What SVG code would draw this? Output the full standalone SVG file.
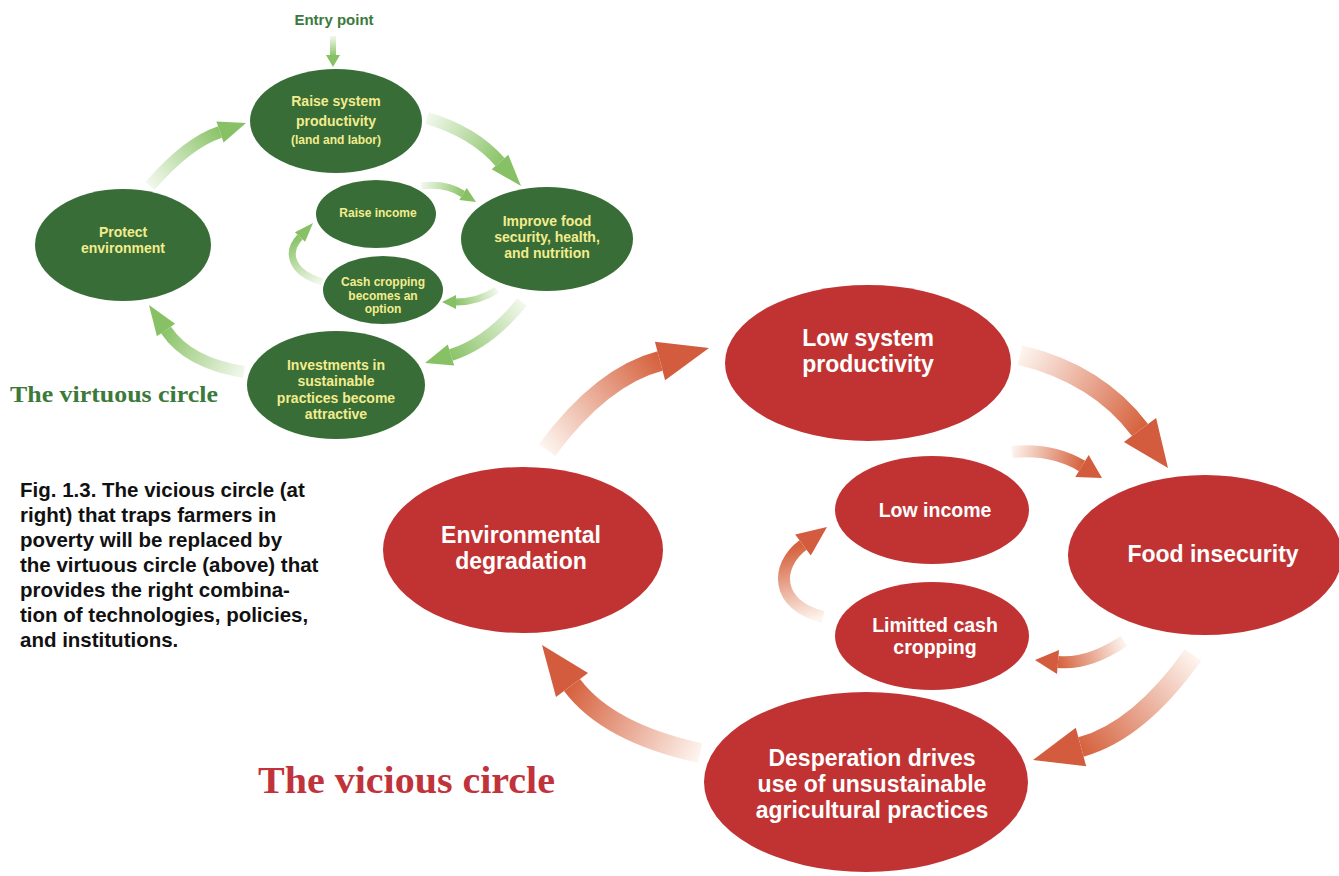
<svg xmlns="http://www.w3.org/2000/svg" xmlns:xlink="http://www.w3.org/1999/xlink" width="1339" height="876" viewBox="0 0 1339 876">
  <defs>
    <style>
      .gnode { fill: #386d38; }
      .rnode { fill: #c13333; }
      .gtxt { font-family: "Liberation Sans", Arial, sans-serif; font-weight: 700; font-size: 14px; fill: #f3ec8d; text-anchor: middle; }
      .gsmall { font-size: 12px; }
      .rtxt { font-family: "Liberation Sans", Arial, sans-serif; font-weight: 700; font-size: 23px; fill: #ffffff; text-anchor: middle; }
      .rsmall { font-size: 19.5px; }
      .caption { font-family: "Liberation Sans", Arial, sans-serif; font-weight: 700; font-size: 20.5px; fill: #111111; }
      .title { font-family: "Liberation Serif", "DejaVu Serif", serif; font-weight: 700; }
      .rband { fill: none; stroke-linecap: butt; }
      .rhead { fill: #d35c3e; }
      .ghead { fill: #88c165; }
    </style>
    <!-- base colour ramps: faded tail to saturated head -->
    <linearGradient id="redFade">
      <stop offset="0" stop-color="#fdf4ee"/>
      <stop offset="1" stop-color="#d6633f"/>
    </linearGradient>
    <linearGradient id="greenFade">
      <stop offset="0" stop-color="#f2f8ec"/>
      <stop offset="1" stop-color="#8cc46a"/>
    </linearGradient>
    <!-- per-connector gradient directions -->
    <linearGradient id="gr1" xlink:href="#redFade" gradientUnits="userSpaceOnUse" x1="547" y1="450" x2="660" y2="361"/>
    <linearGradient id="gr2" xlink:href="#redFade" gradientUnits="userSpaceOnUse" x1="1020" y1="355" x2="1140" y2="430"/>
    <linearGradient id="gr3" xlink:href="#redFade" gradientUnits="userSpaceOnUse" x1="1012" y1="452" x2="1082" y2="466"/>
    <linearGradient id="gr4" xlink:href="#redFade" gradientUnits="userSpaceOnUse" x1="1124" y1="641" x2="1058" y2="662"/>
    <linearGradient id="gr5" xlink:href="#redFade" gradientUnits="userSpaceOnUse" x1="1193" y1="655" x2="1081" y2="747"/>
    <linearGradient id="gr6" xlink:href="#redFade" gradientUnits="userSpaceOnUse" x1="700" y1="753" x2="572" y2="685"/>
    <linearGradient id="gr7" xlink:href="#redFade" gradientUnits="userSpaceOnUse" x1="823" y1="617" x2="803" y2="545"/>
    <linearGradient id="gg1" xlink:href="#greenFade" gradientUnits="userSpaceOnUse" x1="333" y1="36" x2="333" y2="56"/>
    <linearGradient id="gg2" xlink:href="#greenFade" gradientUnits="userSpaceOnUse" x1="150" y1="186" x2="220" y2="132"/>
    <linearGradient id="gg3" xlink:href="#greenFade" gradientUnits="userSpaceOnUse" x1="427" y1="118" x2="500" y2="162"/>
    <linearGradient id="gg4" xlink:href="#greenFade" gradientUnits="userSpaceOnUse" x1="421" y1="186" x2="463" y2="194"/>
    <linearGradient id="gg5" xlink:href="#greenFade" gradientUnits="userSpaceOnUse" x1="497" y1="290" x2="456" y2="302"/>
    <linearGradient id="gg6" xlink:href="#greenFade" gradientUnits="userSpaceOnUse" x1="522" y1="302" x2="451" y2="355"/>
    <linearGradient id="gg7" xlink:href="#greenFade" gradientUnits="userSpaceOnUse" x1="244" y1="372" x2="166" y2="330"/>
    <linearGradient id="gg8" xlink:href="#greenFade" gradientUnits="userSpaceOnUse" x1="322" y1="282" x2="300" y2="237"/>
  </defs>

  <rect width="1339" height="876" fill="#ffffff"/>

  <!-- connectors -->
  <g id="connectors">
    <!-- virtuous circle -->
    <path class="rband" d="M333,36 L333,56" stroke="url(#gg1)" stroke-width="6"/>
    <polygon class="ghead" points="326,55 340,55 333,67"/>

    <path class="rband" d="M150,186 Q187,143 220,132" stroke="url(#gg2)" stroke-width="12"/>
    <polygon class="ghead" points="223.6,142.4 216.4,121.6 246,123"/>

    <path class="rband" d="M427,118 Q474,132 500,162" stroke="url(#gg3)" stroke-width="12"/>
    <polygon class="ghead" points="491.7,169.2 508.3,154.8 521,186"/>

    <path class="rband" d="M421,186 Q446,183 463,194" stroke="url(#gg4)" stroke-width="7"/>
    <polygon class="ghead" points="459.3,200 466.7,188 476,202"/>

    <path class="rband" d="M497,290 Q478,302 456,302" stroke="url(#gg5)" stroke-width="7"/>
    <polygon class="ghead" points="456,295 456,309 442,302"/>

    <path class="rband" d="M522,302 Q489,343 451,355" stroke="url(#gg6)" stroke-width="12"/>
    <polygon class="ghead" points="454.2,365.5 447.8,344.5 425,363"/>

    <path class="rband" d="M244,372 Q188,363 166,330" stroke="url(#gg7)" stroke-width="12"/>
    <polygon class="ghead" points="175.1,323.8 156.9,336.2 149,305"/>

    <path class="rband" d="M322,282 C290,272 286,252 300,237" stroke="url(#gg8)" stroke-width="7"/>
    <polygon class="ghead" points="305.1,241.8 294.9,232.2 313,223"/>

    <!-- vicious circle -->
    <path class="rband" d="M547,450 Q602,376 660,361" stroke="url(#gr1)" stroke-width="20"/>
    <polygon class="rhead" points="665.1,380.3 654.9,341.7 709,348"/>

    <path class="rband" d="M1020,355 Q1098,374 1140,430" stroke="url(#gr2)" stroke-width="20"/>
    <polygon class="rhead" points="1123.9,441.9 1156.1,418.1 1168,468"/>

    <path class="rband" d="M1012,452 Q1052,448 1082,466" stroke="url(#gr3)" stroke-width="12"/>
    <polygon class="rhead" points="1075.3,477.1 1088.7,454.9 1102,478"/>

    <path class="rband" d="M1124,641 Q1088,665 1058,662" stroke="url(#gr4)" stroke-width="12"/>
    <polygon class="rhead" points="1059,650 1057,674 1035,660"/>

    <path class="rband" d="M1193,655 Q1139,731 1081,747" stroke="url(#gr5)" stroke-width="20"/>
    <polygon class="rhead" points="1086.2,766.3 1075.8,727.7 1033,760"/>

    <path class="rband" d="M700,753 Q608,733 572,685" stroke="url(#gr6)" stroke-width="20"/>
    <polygon class="rhead" points="588,673 556,697 542,645"/>

    <path class="rband" d="M823,617 C775,605 775,566 803,545" stroke="url(#gr7)" stroke-width="12"/>
    <polygon class="rhead" points="810.8,555.4 795.2,534.6 827,527"/>
  </g>

  <!-- virtuous circle nodes -->
  <text x="334" y="25" text-anchor="middle" font-family="Liberation Sans, Arial, sans-serif" font-weight="700" font-size="15" fill="#3b7a3b">Entry point</text>

  <g id="raise-productivity">
    <ellipse class="gnode" cx="336" cy="121" rx="86" ry="52"/>
    <text class="gtxt" x="336" y="106">Raise system</text>
    <text class="gtxt" x="336" y="126">productivity</text>
    <text class="gtxt gsmall" x="336" y="144">(land and labor)</text>
  </g>
  <g id="protect-environment">
    <ellipse class="gnode" cx="123" cy="245" rx="88" ry="56"/>
    <text class="gtxt" x="123" y="237">Protect</text>
    <text class="gtxt" x="123" y="253">environment</text>
  </g>
  <g id="improve-food">
    <ellipse class="gnode" cx="547" cy="239" rx="86" ry="52"/>
    <text class="gtxt" x="547" y="226">Improve food</text>
    <text class="gtxt" x="547" y="242">security, health,</text>
    <text class="gtxt" x="547" y="258">and nutrition</text>
  </g>
  <g id="raise-income">
    <ellipse class="gnode" cx="376" cy="214" rx="60" ry="34"/>
    <text class="gtxt gsmall" x="378" y="217">Raise income</text>
  </g>
  <g id="cash-cropping">
    <ellipse class="gnode" cx="383" cy="290" rx="60" ry="34"/>
    <text class="gtxt gsmall" x="383" y="286">Cash cropping</text>
    <text class="gtxt gsmall" x="383" y="299.5">becomes an</text>
    <text class="gtxt gsmall" x="383" y="313">option</text>
  </g>
  <g id="investments">
    <ellipse class="gnode" cx="336" cy="385" rx="89" ry="54"/>
    <text class="gtxt" x="336" y="370">Investments in</text>
    <text class="gtxt" x="336" y="386">sustainable</text>
    <text class="gtxt" x="336" y="402.5">practices become</text>
    <text class="gtxt" x="336" y="419">attractive</text>
  </g>

  <text class="title" x="10" y="402" font-size="23" fill="#3b7a3b" textLength="208" lengthAdjust="spacingAndGlyphs">The virtuous circle</text>

  <!-- figure caption -->
  <g id="caption">
    <text class="caption" x="20" y="497">Fig. 1.3. The vicious circle (at</text>
    <text class="caption" x="20" y="522">right) that traps farmers in</text>
    <text class="caption" x="20" y="547">poverty will be replaced by</text>
    <text class="caption" x="20" y="572">the virtuous circle (above) that</text>
    <text class="caption" x="20" y="597">provides the right combina-</text>
    <text class="caption" x="20" y="622">tion of technologies, policies,</text>
    <text class="caption" x="20" y="647">and institutions.</text>
  </g>

  <!-- vicious circle nodes -->
  <g id="low-productivity">
    <ellipse class="rnode" cx="868" cy="363" rx="143" ry="78"/>
    <text class="rtxt" x="868" y="346">Low system</text>
    <text class="rtxt" x="868" y="372">productivity</text>
  </g>
  <g id="food-insecurity">
    <ellipse class="rnode" cx="1205" cy="555" rx="137" ry="80"/>
    <text class="rtxt" x="1213" y="562">Food insecurity</text>
  </g>
  <g id="desperation">
    <ellipse class="rnode" cx="866" cy="782" rx="162" ry="90"/>
    <text class="rtxt" x="872" y="766">Desperation drives</text>
    <text class="rtxt" x="872" y="792">use of unsustainable</text>
    <text class="rtxt" x="872" y="818">agricultural practices</text>
  </g>
  <g id="environmental-degradation">
    <ellipse class="rnode" cx="523" cy="550" rx="140" ry="83"/>
    <text class="rtxt" x="521" y="543">Environmental</text>
    <text class="rtxt" x="521" y="569">degradation</text>
  </g>
  <g id="low-income">
    <ellipse class="rnode" cx="932" cy="510" rx="97" ry="54"/>
    <text class="rtxt rsmall" x="935" y="517">Low income</text>
  </g>
  <g id="limited-cash">
    <ellipse class="rnode" cx="932" cy="636" rx="97" ry="54"/>
    <text class="rtxt rsmall" x="935" y="632">Limitted cash</text>
    <text class="rtxt rsmall" x="935" y="654">cropping</text>
  </g>

  <text class="title" x="258" y="793" font-size="38" fill="#c1333a" textLength="297" lengthAdjust="spacingAndGlyphs">The vicious circle</text>
</svg>
